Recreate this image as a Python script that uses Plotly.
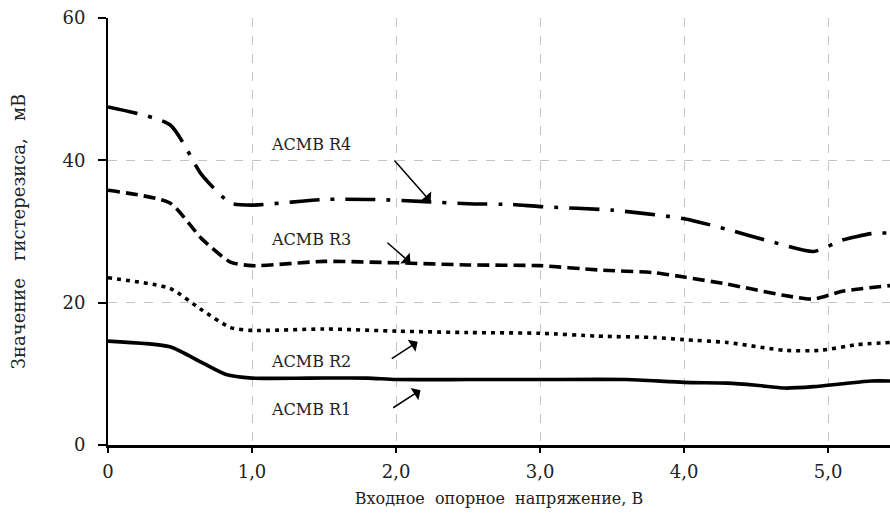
import plotly.graph_objects as go

# Data
x_r1 = [0, 0.43, 0.65, 0.82, 1.0, 1.4, 1.8, 2.0, 2.5, 3.0, 3.6, 4.0, 4.3, 4.5, 4.7, 4.9, 5.1, 5.3, 5.43]
y_r1 = [14.6, 13.8, 11.6, 9.9, 9.4, 9.4, 9.4, 9.2, 9.2, 9.2, 9.2, 8.8, 8.7, 8.4, 8.0, 8.2, 8.6, 9.0, 9.0]

x_r2 = [0, 0.43, 0.65, 0.85, 1.0, 1.5, 2.0, 2.5, 3.0, 3.4, 3.8, 4.0, 4.3, 4.7, 4.95, 5.2, 5.43]
y_r2 = [23.5, 22.0, 19.0, 16.5, 16.1, 16.3, 16.0, 15.8, 15.7, 15.3, 15.1, 14.8, 14.4, 13.3, 13.3, 14.1, 14.4]

x_r3 = [0, 0.43, 0.65, 0.85, 1.0, 1.5, 2.0, 2.5, 3.0, 3.4, 3.8, 4.0, 4.3, 4.7, 4.9, 5.1, 5.43]
y_r3 = [35.8, 34.0, 29.0, 25.7, 25.2, 25.8, 25.6, 25.3, 25.2, 24.6, 24.2, 23.6, 22.6, 21.0, 20.5, 21.6, 22.4]

x_r4 = [0, 0.43, 0.65, 0.85, 1.0, 1.5, 1.85, 2.2, 2.5, 2.8, 3.0, 3.5, 4.0, 4.3, 4.6, 4.9, 5.1, 5.3, 5.43]
y_r4 = [47.5, 45.0, 38.0, 34.0, 33.7, 34.5, 34.5, 34.2, 33.9, 33.8, 33.5, 33.0, 31.8, 30.3, 28.6, 27.2, 28.8, 29.7, 29.8]

x_ticks = [0, 1, 2, 3, 4, 5]
x_tick_labels = ["0", "1,0", "2,0", "3,0", "4,0", "5,0"]
y_ticks = [0, 20, 40, 60]

labels = ["ACMB R1", "ACMB R2", "ACMB R3", "ACMB R4"]

FONT = "DejaVu Serif"
TXT = "#222222"

fig = go.Figure()
series = [
    (x_r1, y_r1, "solid"),
    (x_r2, y_r2, "4px,5px"),
    (x_r3, y_r3, "12px,6px"),
    (x_r4, y_r4, "30px,11px,4px,11px"),
]
for (xs, ys, dash), name in zip(series, labels):
    fig.add_trace(go.Scatter(
        x=xs, y=ys, mode="lines", name=name,
        line=dict(color="black", width=3.6, dash=dash, shape="spline", smoothing=0.6),
        showlegend=False, hoverinfo="skip",
    ))

# Annotations: text label + arrow (positions in data coords)
ann = [
    (labels[3], 1.12, 42.2, (1.98, 40.2), (2.24, 34.2)),
    (labels[2], 1.12, 28.9, (1.93, 28.6), (2.10, 25.6)),
    (labels[1], 1.12, 11.7, (1.96, 12.0), (2.15, 14.5)),
    (labels[0], 1.12, 5.0, (1.97, 5.1), (2.17, 7.7)),
]
for text, tx, ty, (ax0, ay0), (hx, hy) in ann:
    fig.add_annotation(x=tx, y=ty, text=text, showarrow=False, xanchor="left",
                       font=dict(family=FONT, size=16, color=TXT))
    fig.add_annotation(x=hx, y=hy, ax=ax0, ay=ay0, xref="x", yref="y", axref="x", ayref="y",
                       text="", showarrow=True, arrowhead=1, arrowsize=1.6, arrowwidth=1.5,
                       arrowcolor="black")

fig.update_layout(
    width=890, height=526,
    margin=dict(l=108, r=0, t=18, b=81),
    paper_bgcolor="white", plot_bgcolor="white",
    font=dict(family=FONT, size=17, color=TXT),
    xaxis=dict(
        range=[0, 5.43], tickvals=x_ticks, ticktext=x_tick_labels,
        showgrid=True, gridcolor="#c4c4c4", griddash="dash", gridwidth=1,
        showline=True, linecolor="black", linewidth=2.5,
        ticks="outside", ticklen=5, tickwidth=2, tickcolor="black",
        ticklabelstandoff=4, zeroline=False,
        tickfont=dict(family=FONT, size=18, color=TXT),
        title=dict(text="Входное  опорное  напряжение, В", standoff=12,
                   font=dict(family=FONT, size=16, color=TXT)),
    ),
    yaxis=dict(
        range=[0, 60], tickvals=y_ticks,
        showgrid=True, gridcolor="#c4c4c4", griddash="dash", gridwidth=1,
        showline=True, linecolor="black", linewidth=2,
        ticks="outside", ticklen=8, tickwidth=2, tickcolor="black",
        ticklabelstandoff=9, zeroline=False,
        tickfont=dict(family=FONT, size=18, color=TXT),
        title=dict(text="Значение   гистерезиса,   мВ", standoff=32,
                   font=dict(family=FONT, size=18, color=TXT)),
    ),
)

fig.write_html("out.html")
